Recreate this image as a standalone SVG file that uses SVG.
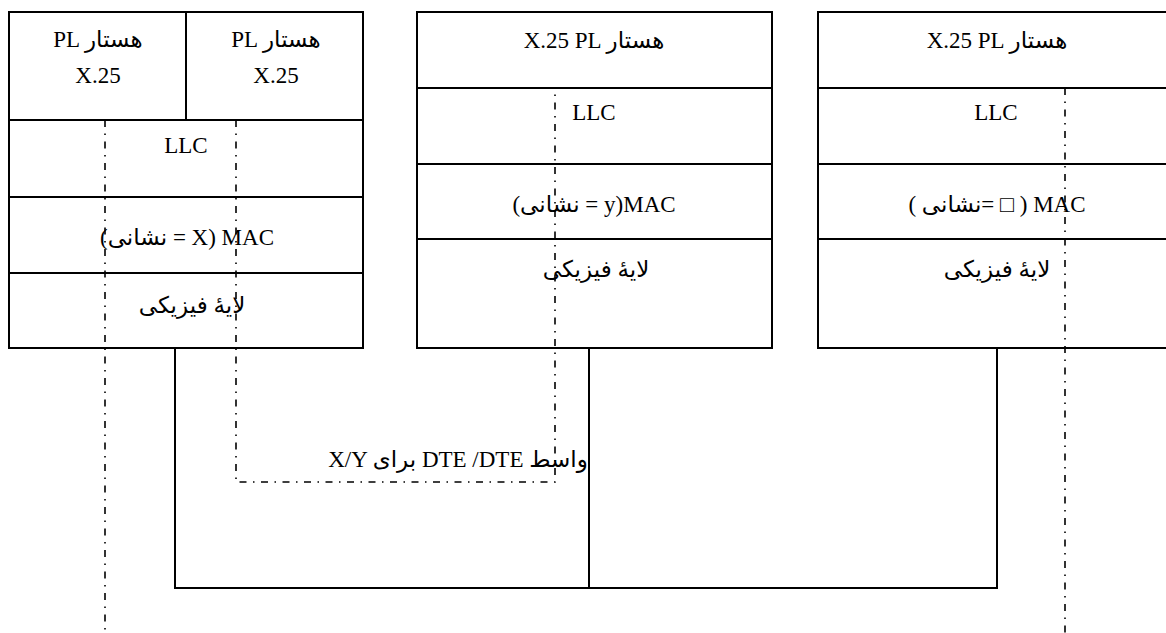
<svg xmlns="http://www.w3.org/2000/svg" width="1166" height="633" viewBox="0 0 1166 633">
<style>
.box{fill:#fff;stroke:#000;stroke-width:2}
.div{stroke:#000;stroke-width:2}
.t{font-family:"Liberation Serif","DejaVu Sans",serif;font-size:23px;fill:#000;text-anchor:middle}
.sol{fill:none;stroke:#000;stroke-width:2}
.dd{fill:none;stroke:#000;stroke-width:1.6;stroke-dasharray:7 6.5 1.5 6.5}
</style>
<rect width="1166" height="633" fill="#fff"/>
<g id="station1">
<rect class="box" x="9" y="12" width="354" height="336"/>
<line class="div" x1="9" y1="120" x2="363" y2="120"/>
<line class="div" x1="9" y1="197" x2="363" y2="197"/>
<line class="div" x1="9" y1="273" x2="363" y2="273"/>
<line class="div" x1="186" y1="12" x2="186" y2="120"/>
<text class="t" x="98" y="47">PL هستار</text>
<text class="t" x="98" y="83">X.25</text>
<text class="t" x="276" y="47">PL هستار</text>
<text class="t" x="276" y="83">X.25</text>
<text class="t" x="186" y="153">LLC</text>
<text class="t" x="187" y="245">(نشانی = X) MAC</text>
<text class="t" x="192" y="313">لایۀ فیزیکی</text>
</g>
<g id="station2">
<rect class="box" x="417" y="12" width="355" height="336"/>
<line class="div" x1="417" y1="88" x2="772" y2="88"/>
<line class="div" x1="417" y1="164" x2="772" y2="164"/>
<line class="div" x1="417" y1="239" x2="772" y2="239"/>
<text class="t" x="594" y="48">X.25 PL هستار</text>
<text class="t" x="594" y="120">LLC</text>
<text class="t" x="594" y="212">(نشانی = y)MAC</text>
<text class="t" x="596" y="277">لایۀ فیزیکی</text>
</g>
<g id="station3">
<rect class="box" x="818" y="12" width="356" height="336"/>
<line class="div" x1="818" y1="88" x2="1174" y2="88"/>
<line class="div" x1="818" y1="164" x2="1174" y2="164"/>
<line class="div" x1="818" y1="239" x2="1174" y2="239"/>
<text class="t" x="997" y="48">X.25 PL هستار</text>
<text class="t" x="996" y="120">LLC</text>
<text class="t" x="997" y="212">( نشانی= □ ) MAC</text>
<text class="t" x="997" y="277">لایۀ فیزیکی</text>
</g>
<g id="connectors">
<path class="sol" d="M175 348 V588 H997 V348"/>
<line class="sol" x1="589" y1="348" x2="589" y2="588"/>
<line class="dd" x1="105" y1="120" x2="105" y2="633"/>
<path class="dd" d="M236 120 V482 H555 V88"/>
<line class="dd" x1="1065" y1="88" x2="1065" y2="633"/>
</g>
<g id="label">
<text class="t" x="458" y="467">X/Y برای DTE /DTE واسط</text>
</g>
</svg>
